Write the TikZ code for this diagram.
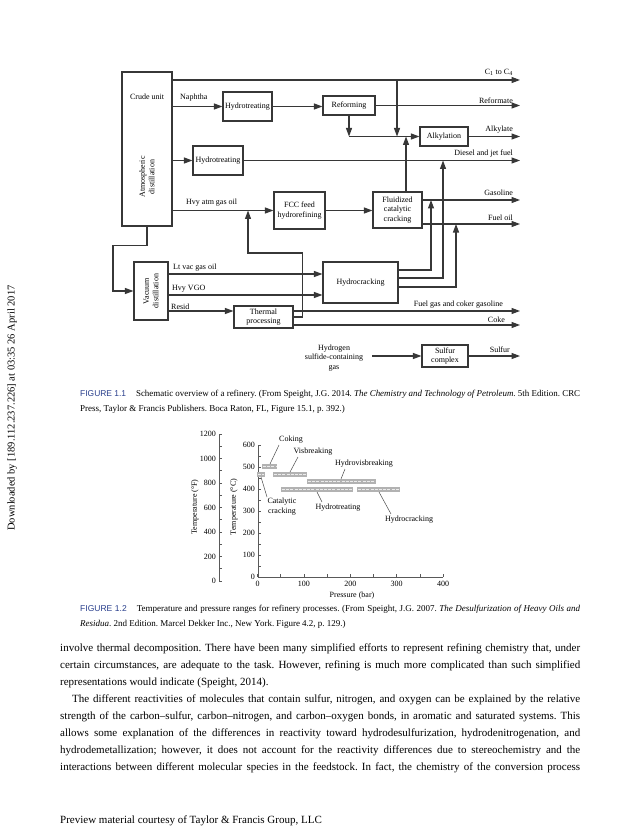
\documentclass[tikz,border=0pt]{standalone}
\usepackage{fontspec}
\setmainfont{Liberation Serif}
\newfontfamily\capsans{Liberation Sans}
\usetikzlibrary{arrows.meta}
\definecolor{ln}{RGB}{55,55,55}
\definecolor{capblue}{RGB}{40,62,140}
\frenchspacing
\newsavebox\jbox
\newcommand{\jline}[2]{\sbox\jbox{#2}\ifdim\wd\jbox>#1\relax\resizebox{#1}{\height}{\usebox\jbox}\else\makebox[#1][s]{#2}\fi}
\begin{document}
\begin{tikzpicture}[x=1pt,y=-1pt, font=\fontsize{8}{9.5}\selectfont,
  box/.style={draw=ln, line width=1.1pt, fill=white, inner sep=1pt, align=center},
  arr/.style={draw=ln, line width=1.1pt, -{Triangle[length=8.5pt,width=6pt]}},
  lbl/.style={inner sep=0pt},
  axis/.style={draw=gray!70!black, line width=0.7pt},
  pbar/.style={fill=gray!60},
  hatch/.style={draw=gray!15, line width=0.9pt, dash pattern=on 3pt off 1.2pt},
  lead/.style={draw=gray!60!black, line width=0.5pt},
  bodytxt/.style={inner sep=0pt, anchor=west, font=\fontsize{11}{13}\selectfont},
  captxt/.style={inner sep=0pt, anchor=west, font=\fontsize{9}{11}\selectfont}]
\fill[white] (0,0) rectangle (638,826);
\useasboundingbox (0,0) rectangle (638,826);

% side text
\node[lbl, rotate=90, font=\fontsize{10.5}{12}\selectfont] (side) at (12,408) {Downloaded by [189.112.237.226] at 03:35 26 April 2017};

% ---------------- Figure 1.1 flowchart ----------------
\node[box, minimum width=50pt, minimum height=154pt] (crude) at (147,149) {};
\node[lbl] (crudet) at (147,97) {Crude unit};
\node[lbl, rotate=90, align=center] (atm) at (147,177) {Atmospheric\\distillation};
\node[box, minimum width=49pt, minimum height=29pt] (ht1) at (247.5,106.5) {Hydrotreating};
\node[box, minimum width=52pt, minimum height=19pt] (ref) at (349,105.5) {Reforming};
\node[box, minimum width=48pt, minimum height=19pt] (alk) at (444,136.5) {Alkylation};
\node[box, minimum width=50pt, minimum height=29pt] (ht2) at (218,160.5) {Hydrotreating};
\node[box, minimum width=51pt, minimum height=37pt] (fccf) at (299.5,210.5) {FCC feed\\hydrorefining};
\node[box, minimum width=49pt, minimum height=36pt] (fcc) at (397.5,210) {Fluidized\\catalytic\\cracking};
\node[box, minimum width=75pt, minimum height=41pt] (hc) at (360.5,282.5) {Hydrocracking};
\node[box, minimum width=34pt, minimum height=58pt] (vac) at (151,291) {};
\node[lbl, rotate=90, align=center] (vact) at (151,291) {Vacuum\\distillation};
\node[box, minimum width=59pt, minimum height=22pt] (thp) at (263.5,317) {Thermal\\processing};
\node[box, minimum width=46pt, minimum height=22pt] (sc) at (445,356) {Sulfur\\complex};
\node[lbl, align=center] (h2s) at (334,358) {Hydrogen\\sulfide-containing\\gas};

% helper coordinates
\coordinate (R) at (520,0);
\coordinate (oC) at (520,80);
\coordinate (jx) at (397,80);
\coordinate (Lgas) at (0,200);
\coordinate (Lfo) at (0,224);
\coordinate (Xa) at (431,0);
\coordinate (Xb) at (443,0);
\coordinate (Xc) at (456,0);
\coordinate (Xv) at (113,0);
\coordinate (Xl) at (248,0);
\coordinate (Llv) at (0,274);
\coordinate (Lhv) at (0,295);
\coordinate (Lfg) at (0,311);
\coordinate (Lck) at (0,325);
\coordinate (hs) at (372,356);
\coordinate (fu) at ([xshift=8.5pt]fcc.north);

% connectors
\draw[arr] (crude.east |- oC) -- (oC);
\draw[arr] (crude.east |- ht1.west) -- (ht1.west);
\draw[arr] (ht1.east) -- (ht1.east -| ref.west);
\draw[arr] (ref.east) -- (R |- ref.east);
\draw[arr] (ref.south) -- (ref.south |- alk.west);
\draw[arr] (ref.south |- alk.west) -- (alk.west);
\draw[arr] (jx) -- (jx |- alk.west);
\draw[arr] (fu) -- (fu |- alk.west);
\draw[arr] (alk.east) -- (R |- alk.east);
\draw[arr] (crude.east |- ht2.west) -- (ht2.west);
\draw[arr] (ht2.east) -- (R |- ht2.east);
\draw[arr] (crude.east |- fccf.west) -- (fccf.west);
\draw[arr] (fccf.east) -- (fccf.east -| fcc.west);
\draw[arr] (fcc.east |- Lgas) -- (R |- Lgas);
\draw[arr] (fcc.east |- Lfo) -- (R |- Lfo);
\draw[arr] ([yshift=12.5pt]hc.east) -| (Xa |- Lgas);
\draw[arr] ([yshift=4.5pt]hc.east) -| (Xb |- ht2.east);
\draw[arr] ([yshift=-4.5pt]hc.east) -| (Xc |- Lfo);
\draw[arr] (crude.south) -- ++(0,19) -| (Xv |- vac.west) -- (vac.west);
\draw[arr] (vac.east |- Llv) -- (hc.west |- Llv);
\draw[arr] (vac.east |- Lhv) -- (hc.west |- Lhv);
\draw[arr] (vac.east |- Lfg) -- (thp.west |- Lfg);
\draw[arr] (thp.east |- Lfg) -- (R |- Lfg);
\draw[arr] (thp.east |- Lck) -- (R |- Lck);
\draw[arr] (thp.east) -- ++(9,0) -- ++(0,-64) -| (Xl |- fccf.west);
\draw[arr] (hs) -- (sc.west);
\draw[arr] (sc.east) -- (R |- sc.east);

% flow labels
\node[lbl, anchor=west] (lnap) at (180,98) {Naphtha};
\node[lbl, anchor=west] (lhag) at (186,203) {Hvy atm gas oil};
\node[lbl, anchor=west] (llvg) at (173,268) {Lt vac gas oil};
\node[lbl, anchor=west] (lhvg) at (172,289) {Hvy VGO};
\node[lbl, anchor=west] (lres) at (171,307) {Resid};
\node[lbl, anchor=east] (lc14) at (513,72) {C\textsubscript{1} to C\textsubscript{4}};
\node[lbl, anchor=east] (lrefm) at (513,101) {Reformate};
\node[lbl, anchor=east] (lalk) at (513,130) {Alkylate};
\node[lbl, anchor=east] (ldie) at (513,154) {Diesel and jet fuel};
\node[lbl, anchor=east] (lgas) at (513,193) {Gasoline};
\node[lbl, anchor=east] (lfo) at (513,218) {Fuel oil};
\node[lbl, anchor=east] (lfg) at (503,305) {Fuel gas and coker gasoline};
\node[lbl, anchor=east] (lcoke) at (505,320) {Coke};
\node[lbl, anchor=east] (lsul) at (510,350) {Sulfur};

% caption 1.1
\node[captxt] (c11a) at (80,394) {\jline{500pt}{{\capsans\color{capblue}\fontsize{8.5}{10}\selectfont FIGURE 1.1}\hspace{10pt}Schematic overview of a refinery. (From Speight, J.G. 2014. \textit{The Chemistry and Technology of Petroleum}. 5th Edition. CRC}};
\node[captxt] (c11b) at (80,409) {Press, Taylor \& Francis Publishers. Boca Raton, FL, Figure 15.1, p. 392.)};

% ---------------- Figure 1.2 chart ----------------
\draw[axis] (219,434) -- (219,581);
\foreach \f in {0,100,...,1200} \draw[axis] (219,{581-0.1225*\f}) -- ++(3,0);
\foreach \f in {0,200,...,1200} \node[lbl, anchor=east] (tf\f) at (216,{581-0.1225*\f}) {\f};
\draw[axis] (258,445) -- (258,577) -- (443,577);
\foreach \c in {0,50,...,600} \draw[axis] (258,{577-0.22*\c}) -- ++(3,0);
\foreach \c in {0,100,...,600} \node[lbl, anchor=east] (tc\c) at (255,{577-0.22*\c}) {\c};
\foreach \p in {0,50,...,400} \draw[axis] ({257.5+0.464*\p},577) -- ++(0,-3);
\foreach \p in {0,100,...,400} \node[lbl] (tp\p) at ({257.5+0.464*\p},584) {\p};
\node[lbl, rotate=90] (tfF) at (195,507) {Temperature (°F)};
\node[lbl, rotate=90] (tfC) at (234,507) {Temperature (°C)};
\node[lbl] (tpb) at (352,596) {Pressure (bar)};

% bars
\fill[pbar] (262,464) rectangle (277,469); \draw[hatch] (263,466.5) -- (276,466.5);
\fill[pbar] (257,472) rectangle (265,477); \draw[hatch] (258,474.5) -- (264,474.5);
\fill[pbar] (273,472) rectangle (307,477); \draw[hatch] (274,474.5) -- (306,474.5);
\fill[pbar] (307,479) rectangle (376,484); \draw[hatch] (308,481.5) -- (375,481.5);
\fill[pbar] (281,487) rectangle (353,492); \draw[hatch] (282,489.5) -- (352,489.5);
\fill[pbar] (357,487) rectangle (400,492); \draw[hatch] (358,489.5) -- (399,489.5);

% process labels and leaders
\node[lbl] (pcok) at (291,440) {Coking};
\node[lbl] (pvis) at (313,452) {Visbreaking};
\node[lbl] (phvb) at (364,464) {Hydrovisbreaking};
\node[lbl, align=center] (pcat) at (282,506.5) {Catalytic\\cracking};
\node[lbl] (phtr) at (338,508) {Hydrotreating};
\node[lbl] (phcr) at (409,520) {Hydrocracking};
\draw[lead] (279,445) -- (270,464);
\draw[lead] (298,457) -- (290,472);
\draw[lead] (345,469) -- (341,479);
\draw[lead] (267,497) -- (261,477);
\draw[lead] (322,502) -- (317,492);
\draw[lead] (391,514) -- (379,492);

% caption 1.2
\node[captxt] (c12a) at (80,609) {\jline{500pt}{{\capsans\color{capblue}\fontsize{8.5}{10}\selectfont FIGURE 1.2}\hspace{10pt}Temperature and pressure ranges for refinery processes. (From Speight, J.G. 2007. \textit{The Desulfurization of Heavy Oils and}}};
\node[captxt] (c12b) at (80,624) {\textit{Residua}. 2nd Edition. Marcel Dekker Inc., New York. Figure 4.2, p. 129.)};

% body text
\node[bodytxt] (b1) at (60,649) {\jline{520pt}{involve thermal decomposition. There have been many simplified efforts to represent refining chemistry that, under}};
\node[bodytxt] (b2) at (60,666) {\jline{520pt}{certain circumstances, are adequate to the task. However, refining is much more complicated than such simplified}};
\node[bodytxt] (b3) at (60,683) {representations would indicate (Speight, 2014).};
\node[bodytxt] (b4) at (72,700) {\jline{508pt}{The different reactivities of molecules that contain sulfur, nitrogen, and oxygen can be explained by the relative}};
\node[bodytxt] (b5) at (60,717) {\jline{520pt}{strength of the carbon–sulfur, carbon–nitrogen, and carbon–oxygen bonds, in aromatic and saturated systems. This}};
\node[bodytxt] (b6) at (60,734) {\jline{520pt}{allows some explanation of the differences in reactivity toward hydrodesulfurization, hydrodenitrogenation, and}};
\node[bodytxt] (b7) at (60,751) {\jline{520pt}{hydrodemetallization; however, it does not account for the reactivity differences due to stereochemistry and the}};
\node[bodytxt] (b8) at (60,768) {\jline{520pt}{interactions between different molecular species in the feedstock. In fact, the chemistry of the conversion process}};

% footer
\node[bodytxt] (foot) at (60,821) {Preview material courtesy of Taylor \& Francis Group, LLC};
\end{tikzpicture}
\end{document}
